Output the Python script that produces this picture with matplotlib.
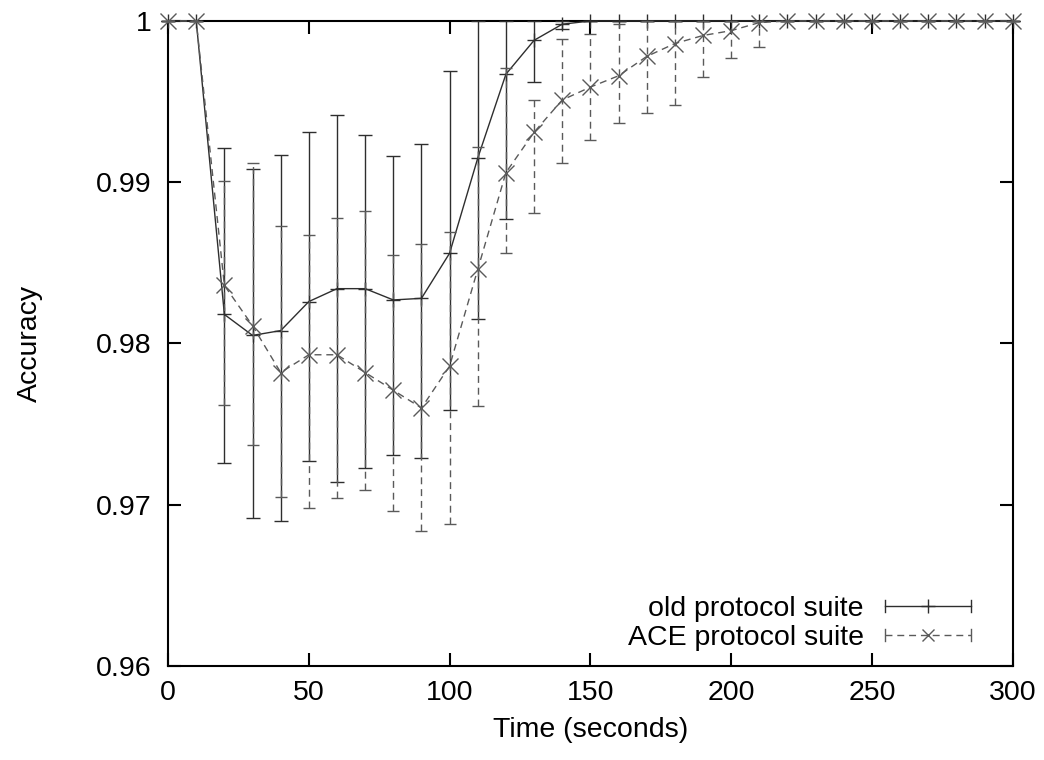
import matplotlib
matplotlib.use("Agg")
import matplotlib.pyplot as plt
from matplotlib.legend_handler import HandlerBase
from matplotlib.lines import Line2D
from matplotlib.ticker import MultipleLocator, FormatStrFormatter
import numpy as np

plt.rcParams['font.family'] = ['Liberation Sans', 'DejaVu Sans']

# time axis (seconds)
times = [0, 10, 20, 30, 40, 50, 60, 70, 80, 90, 100, 110, 120, 130, 140, 150,
         160, 170, 180, 190, 200, 210, 220, 230, 240, 250, 260, 270, 280, 290, 300]

# old protocol suite: mean accuracy and error bar ends
old_mean = [1, 1, 0.9818, 0.9805, 0.9808, 0.9826, 0.9834, 0.9834, 0.9827, 0.9828,
            0.9856, 0.9915, 0.9967, 0.9988, 0.9998, 1, 1, 1, 1, 1, 1, 1, 1, 1, 1, 1, 1, 1, 1, 1, 1]
old_low = [1, 1, 0.9726, 0.9692, 0.9690, 0.9727, 0.9714, 0.9723, 0.9731, 0.9729,
           0.9759, 0.9815, 0.9877, 0.9962, 0.9995, 1, 1, 1, 1, 1, 1, 1, 1, 1, 1, 1, 1, 1, 1, 1, 1]
old_high = [1, 1, 0.9921, 0.9908, 0.9917, 0.9931, 0.9942, 0.9929, 0.9916, 0.9924,
            0.9969, 1, 1, 1, 1, 1, 1, 1, 1, 1, 1, 1, 1, 1, 1, 1, 1, 1, 1, 1, 1]

# ACE protocol suite
ace_mean = [1, 1, 0.9836, 0.9811, 0.9782, 0.9793, 0.9793, 0.9782, 0.9771, 0.9760,
            0.9786, 0.9846, 0.9906, 0.9931, 0.9951, 0.9959, 0.9966, 0.9978, 0.9986, 0.9991,
            0.9994, 0.9999, 1, 1, 1, 1, 1, 1, 1, 1, 1]
ace_low = [1, 1, 0.9762, 0.9737, 0.9705, 0.9698, 0.9704, 0.9709, 0.9696, 0.9684,
           0.9688, 0.9761, 0.9856, 0.9881, 0.9912, 0.9926, 0.9937, 0.9943, 0.9948, 0.9965,
           0.9977, 0.9984, 1, 1, 1, 1, 1, 1, 1, 1, 1]
ace_high = [1, 1, 0.9901, 0.9912, 0.9873, 0.9867, 0.9878, 0.9882, 0.9855, 0.9862,
            0.9869, 0.9922, 0.9971, 0.9951, 0.9989, 0.9992, 0.9998, 1, 1, 1,
            1, 1, 1, 1, 1, 1, 1, 1, 1, 1, 1]

labels = ["old protocol suite", "ACE protocol suite"]

OLD_COLOR = "#2e2e2e"
ACE_COLOR = "#5a5a5a"
DASHES = (5, 3.5)
FS = 20.5


class KeySample(HandlerBase):
    # gnuplot like key: line with small end ticks and the point in the middle
    def __init__(self, color, marker, ms, dashes=None):
        super().__init__()
        self.color = color
        self.marker = marker
        self.ms = ms
        self.dashes = dashes

    def create_artists(self, legend, orig_handle, xdescent, ydescent,
                       width, height, fontsize, trans):
        y = height / 2 - ydescent
        x0, x1 = -xdescent, width - xdescent
        h = height * 0.3
        body = Line2D([x0, x1], [y, y], color=self.color, lw=1.0, transform=trans)
        if self.dashes:
            body.set_dashes(self.dashes)
        left = Line2D([x0, x0], [y - h, y + h], color=self.color, lw=1.0, transform=trans)
        right = Line2D([x1, x1], [y - h, y + h], color=self.color, lw=1.0, transform=trans)
        mid = Line2D([(x0 + x1) / 2], [y], marker=self.marker, ms=self.ms,
                     mew=1.0, color=self.color, ls="none", transform=trans)
        return [body, left, right, mid]


def yerr(mean, low, high):
    mean = np.array(mean)
    return [mean - np.array(low), np.array(high) - mean]


fig = plt.figure(figsize=(10.44, 7.6), dpi=100)
ax = fig.add_axes([0.161, 0.1237, 0.809, 0.8487])

old_eb = ax.errorbar(times, old_mean, yerr=yerr(old_mean, old_low, old_high),
                     color=OLD_COLOR, lw=1.0, elinewidth=1.0, capsize=4.7, capthick=1.0,
                     marker="+", ms=10, mew=1.0, clip_on=False, zorder=3)

ace_eb = ax.errorbar(times, ace_mean, yerr=yerr(ace_mean, ace_low, ace_high),
                     color=ACE_COLOR, lw=1.0, elinewidth=1.0, capsize=4.0, capthick=1.0,
                     marker="x", ms=11, mew=1.0, clip_on=False, zorder=4)
ace_eb[0].set_dashes(DASHES)
for col in ace_eb[2]:
    col.set_linestyle((0, DASHES))

ax.set_xlim(0, 300)
ax.set_ylim(0.96, 1.0)
ax.xaxis.set_major_locator(MultipleLocator(50))
ax.yaxis.set_major_locator(MultipleLocator(0.01))
ax.xaxis.set_major_formatter(FormatStrFormatter("%g"))
ax.yaxis.set_major_formatter(FormatStrFormatter("%g"))
ax.tick_params(direction="in", length=9.5, width=1.5, top=True, right=True,
               labelsize=FS, colors="black")
ax.tick_params(axis="x", pad=10)
ax.tick_params(axis="y", pad=12)
for sp in ax.spines.values():
    sp.set_linewidth(1.5)

ax.set_xlabel("Time (seconds)", fontsize=FS, labelpad=8)
ax.set_ylabel("Accuracy", fontsize=FS, labelpad=38)

ax.legend([old_eb, ace_eb], labels, loc="lower right", bbox_to_anchor=(0.962, 0.008),
          frameon=False, fontsize=FS, markerfirst=False, handlelength=3.0,
          handletextpad=0.75, labelspacing=0.1, borderpad=0.35, borderaxespad=0,
          handler_map={old_eb: KeySample(OLD_COLOR, "+", 10),
                       ace_eb: KeySample(ACE_COLOR, "x", 9, DASHES)})

fig.savefig("out.png", dpi=100)
